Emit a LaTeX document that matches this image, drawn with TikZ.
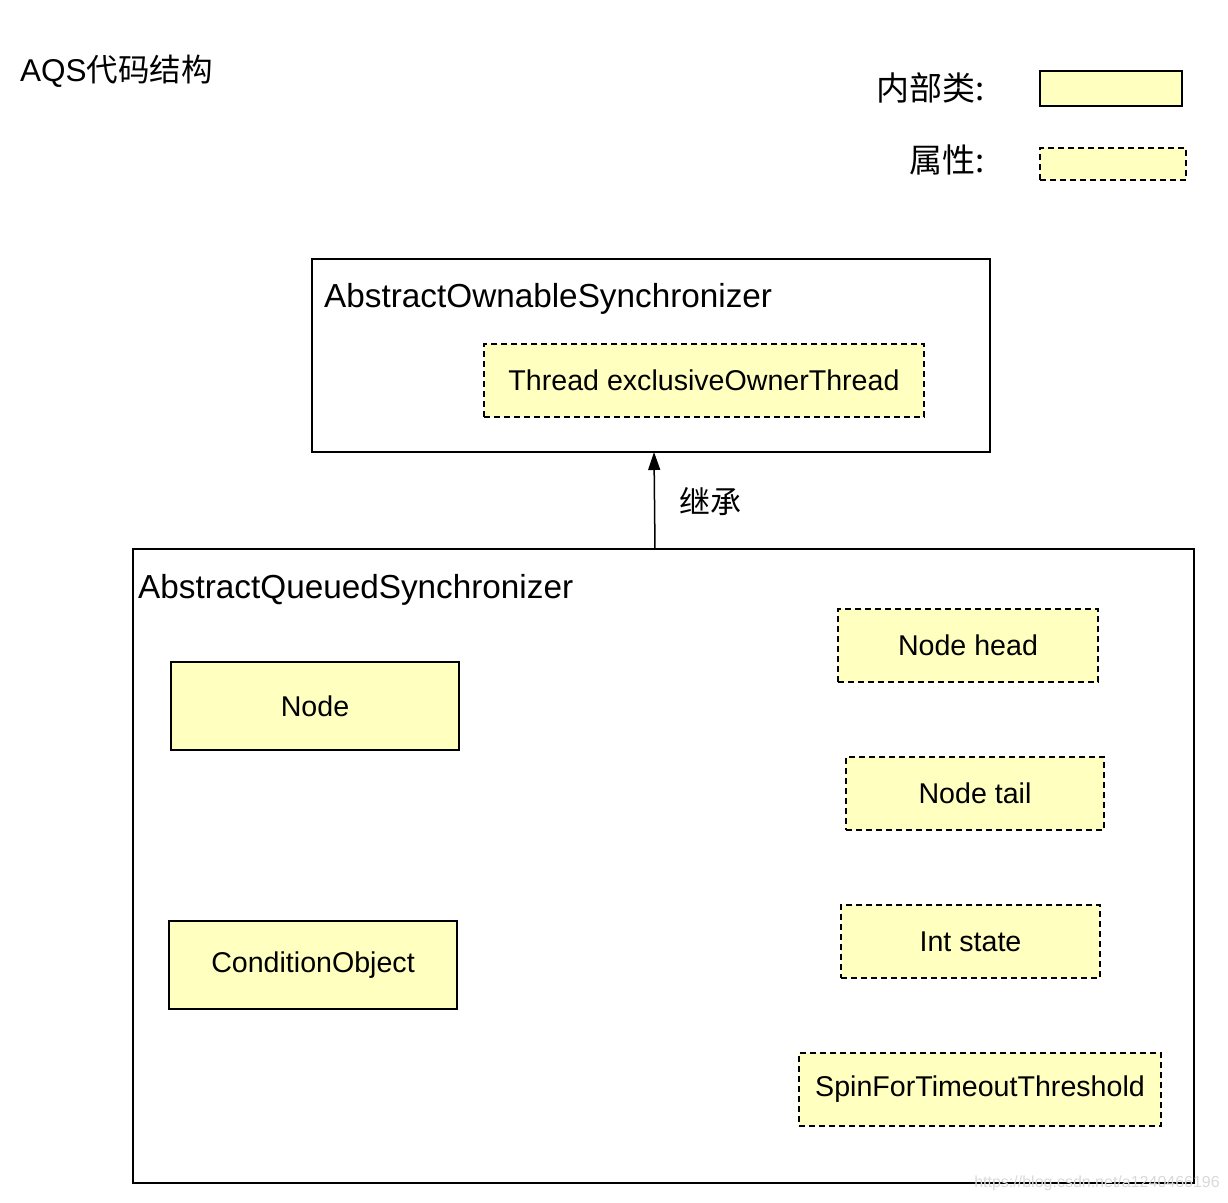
\documentclass[tikz,border=0pt]{standalone}
\usepackage{fontspec}
\setmainfont{Liberation Sans}
\newfontfamily\cjk{Noto Sans CJK SC}
\usetikzlibrary{arrows.meta}
\definecolor{clsyellow}{RGB}{255,255,192}

\begin{document}
\begin{tikzpicture}[x=1pt,y=-1pt]
\tikzstyle{outer}=[rectangle, draw, line width=1.5pt, inner sep=0pt]
\tikzstyle{innercls}=[rectangle, draw, fill=clsyellow, line width=1.5pt, inner sep=0pt, font=\fontsize{28.6}{32}\selectfont]
\tikzstyle{attr}=[innercls, dash pattern=on 6pt off 4pt]
\tikzstyle{lbl}=[inner sep=0pt, font=\fontsize{31}{36}\selectfont]

\useasboundingbox (0,0) rectangle (1228,1202);

\node[lbl, anchor=west, font=\fontsize{31.5}{36}\selectfont] (title) at (20,71) {AQS{\cjk 代码结构}};

% legend
\node[lbl, anchor=east, font=\fontsize{33}{38}\selectfont] (L1) at (985,88) {\cjk 内部类:};
\node[innercls, minimum width=142pt, minimum height=35pt] (k1) at (1111,88.5) {};
\node[lbl, anchor=east, font=\fontsize{33}{38}\selectfont] (L2) at (985,160) {\cjk 属性:};
\node[attr, minimum width=146pt, minimum height=32pt] (k2) at (1113,164) {};

% AbstractOwnableSynchronizer
\node[outer, minimum width=678pt, minimum height=193pt] (aos) at (651,355.5) {};
\node[lbl, anchor=west, font=\fontsize{33.3}{38}\selectfont] (aosname) at (324,299) {AbstractOwnableSynchronizer};
\node[attr, minimum width=440pt, minimum height=73pt] (owner) at (704,380.5) {Thread exclusiveOwnerThread};

% AbstractQueuedSynchronizer
\node[outer, minimum width=1061pt, minimum height=634pt] (aqs) at (663.5,866) {};
\node[lbl, anchor=west, font=\fontsize{33.3}{38}\selectfont] (aqsname) at (138,590) {AbstractQueuedSynchronizer};

\node[innercls, minimum width=288pt, minimum height=88pt] (node) at (315,706) {Node};
\node[innercls, minimum width=288pt, minimum height=88pt] (cond) at (313,965) {ConditionObject};

\node[attr, minimum width=260pt, minimum height=73pt] (head) at (968,645.5) {Node head};
\node[attr, minimum width=258pt, minimum height=73pt] (tail) at (975,793.5) {Node tail};
\node[attr, minimum width=259pt, minimum height=73pt] (state) at (970.5,941.5) {Int state};
\node[attr, minimum width=362pt, minimum height=73pt] (spin) at (980,1089.5) {SpinForTimeoutThreshold};

% inheritance
\coordinate (inhbot) at (655,549);
\coordinate (inhtop) at (654,452);
\draw[line width=1.5pt, -{Triangle[length=18pt,width=12pt]}] (inhbot) -- (inhtop);
\node[lbl, anchor=west] (inh) at (679,502) {\cjk 继承};

\node[anchor=east, inner sep=0pt, text=black!15, font=\fontsize{16}{18}\selectfont] (wm) at (1220,1183) {https://blog.csdn.net/a1240466196};
\end{tikzpicture}
\end{document}
